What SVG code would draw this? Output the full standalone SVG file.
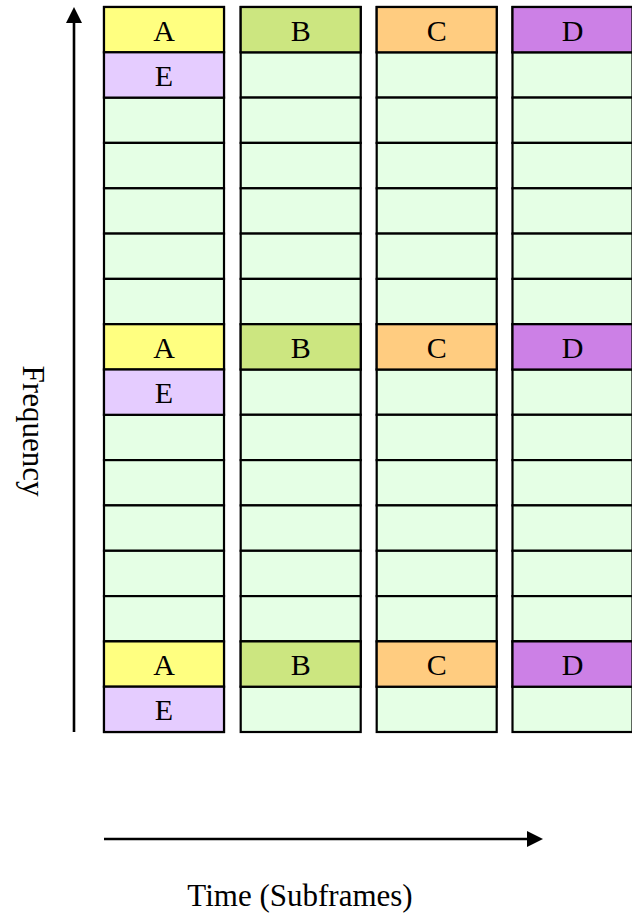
<svg xmlns="http://www.w3.org/2000/svg" width="632" height="914" viewBox="0 0 632 914">
<style>
rect{stroke:#000;stroke-width:2.2}
.g{fill:#E5FFE5}.a{fill:#FFFF80}.b{fill:#CCE680}.c{fill:#FFCC80}.d{fill:#CC80E6}.e{fill:#E5CCFF}
text{font-family:"Liberation Serif","Times New Roman",serif;font-size:30px;fill:#000}
.l{text-anchor:middle}
.big{font-size:31px}
.ax{stroke:#000;stroke-width:2.6;fill:none}
</style>
<defs>
<g id="col">
<rect class="g" x="0" y="7" width="120" height="45.3"/>
<rect class="g" x="0" y="52.3" width="120" height="45.3"/>
<rect class="g" x="0" y="97.6" width="120" height="45.3"/>
<rect class="g" x="0" y="142.9" width="120" height="45.4"/>
<rect class="g" x="0" y="188.3" width="120" height="45.3"/>
<rect class="g" x="0" y="233.6" width="120" height="45.3"/>
<rect class="g" x="0" y="278.9" width="120" height="45.3"/>
<rect class="g" x="0" y="324.2" width="120" height="45.3"/>
<rect class="g" x="0" y="369.5" width="120" height="45.3"/>
<rect class="g" x="0" y="414.8" width="120" height="45.3"/>
<rect class="g" x="0" y="460.1" width="120" height="45.3"/>
<rect class="g" x="0" y="505.4" width="120" height="45.4"/>
<rect class="g" x="0" y="550.8" width="120" height="45.3"/>
<rect class="g" x="0" y="596.1" width="120" height="45.3"/>
<rect class="g" x="0" y="641.4" width="120" height="45.3"/>
<rect class="g" x="0" y="686.7" width="120" height="45.3"/>
</g>
</defs>
<g id="col1" transform="translate(104,0)">
<use href="#col"/>
<rect class="a" x="0" y="7" width="120" height="45.3"/>
<rect class="e" x="0" y="52.3" width="120" height="45.3"/>
<rect class="a" x="0" y="324.2" width="120" height="45.3"/>
<rect class="e" x="0" y="369.5" width="120" height="45.3"/>
<rect class="a" x="0" y="641.4" width="120" height="45.3"/>
<rect class="e" x="0" y="686.7" width="120" height="45.3"/>
<text class="l" x="60" y="40.5">A</text>
<text class="l" x="60" y="86">E</text>
<text class="l" x="60" y="357.7">A</text>
<text class="l" x="60" y="403">E</text>
<text class="l" x="60" y="675">A</text>
<text class="l" x="60" y="720.3">E</text>
</g>
<g id="col2" transform="translate(240.7,0)">
<use href="#col"/>
<rect class="b" x="0" y="7" width="120" height="45.3"/>
<rect class="b" x="0" y="324.2" width="120" height="45.3"/>
<rect class="b" x="0" y="641.4" width="120" height="45.3"/>
<text class="l" x="60" y="40.5">B</text>
<text class="l" x="60" y="357.7">B</text>
<text class="l" x="60" y="675">B</text>
</g>
<g id="col3" transform="translate(376.7,0)">
<use href="#col"/>
<rect class="c" x="0" y="7" width="120" height="45.3"/>
<rect class="c" x="0" y="324.2" width="120" height="45.3"/>
<rect class="c" x="0" y="641.4" width="120" height="45.3"/>
<text class="l" x="60" y="40.5">C</text>
<text class="l" x="60" y="357.7">C</text>
<text class="l" x="60" y="675">C</text>
</g>
<g id="col4" transform="translate(512.5,0)">
<use href="#col"/>
<rect class="d" x="0" y="7" width="120" height="45.3"/>
<rect class="d" x="0" y="324.2" width="120" height="45.3"/>
<rect class="d" x="0" y="641.4" width="120" height="45.3"/>
<text class="l" x="60" y="40.5">D</text>
<text class="l" x="60" y="357.7">D</text>
<text class="l" x="60" y="675">D</text>
</g>
<g id="connectors">
<line class="ax" x1="74" y1="732" x2="74" y2="20"/>
<polygon points="74,7 66,23 82,23" fill="#000"/>
<line class="ax" x1="104" y1="839" x2="530" y2="839"/>
<polygon points="543,839 527,831 527,847" fill="#000"/>
</g>
<g id="labels">
<text class="l big" transform="translate(23,431) rotate(90)">Frequency</text>
<text class="l big" x="300" y="906">Time (Subframes)</text>
</g>
</svg>
